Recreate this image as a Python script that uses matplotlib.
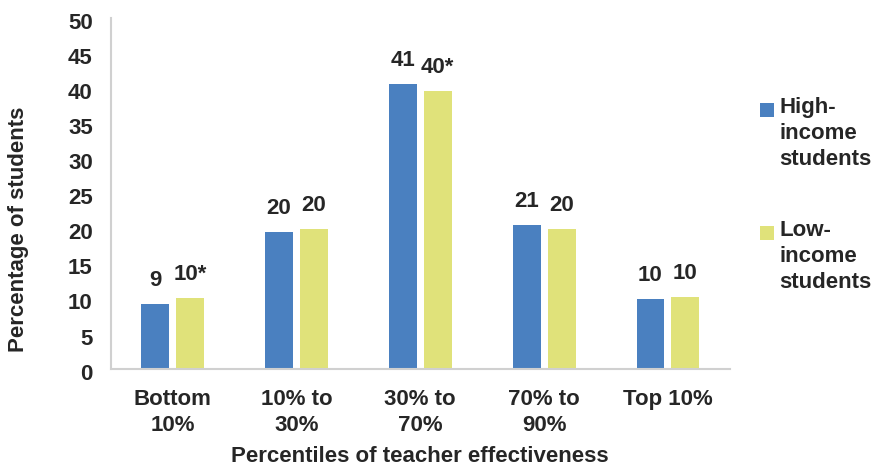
import numpy as np
import matplotlib
matplotlib.use("Agg")
import matplotlib.pyplot as plt
import matplotlib.transforms as mtransforms
from matplotlib.patches import Rectangle

# ===== DATA =====
categories = ["Bottom\n10%", "10% to\n30%", "30% to\n70%", "70% to\n90%", "Top 10%"]
high_income = [9.3, 19.6, 40.6, 20.6, 10.0]
low_income = [10.2, 20.0, 39.6, 20.0, 10.3]
high_labels = ["9", "20", "41", "21", "10"]
low_labels = ["10*", "20", "40*", "20", "10"]
legend_labels = ["High-\nincome\nstudents", "Low-\nincome\nstudents"]

BLUE = '#4a80c0'
YELLOW = '#e0e27a'
TXT = '#262626'
FS = 16

plt.rcParams['font.family'] = ['Liberation Sans', 'DejaVu Sans']
plt.rcParams['font.weight'] = 'bold'

fig = plt.figure(figsize=(8.72, 4.65), dpi=100, facecolor='white')
ax = fig.add_axes([0.127, 0.206, 0.710, 0.755])

x = np.arange(len(categories))
width = 0.226
off = 0.141
b1 = ax.bar(x - off, high_income, width, color=BLUE)
b2 = ax.bar(x + off, low_income, width, color=YELLOW)

for bars, labels in [(b1, high_labels), (b2, low_labels)]:
    for rect, lab in zip(bars, labels):
        ax.annotate(lab, (rect.get_x() + rect.get_width() / 2, rect.get_height()),
                    xytext=(0, 13), textcoords='offset points',
                    ha='center', va='baseline', fontsize=FS, fontweight='bold', color=TXT)

ax.set_xlim(-0.5, len(categories) - 0.5)
ax.set_ylim(0, 50)
ax.set_yticks(range(0, 51, 5))
ax.set_xticks(x)
ax.set_xticklabels(categories, fontsize=FS, fontweight='bold', color=TXT, linespacing=1.36)
ax.tick_params(axis='both', length=0, labelsize=FS, colors=TXT)
ax.tick_params(axis='y', pad=13)
ax.tick_params(axis='x', pad=14)
shift = mtransforms.ScaledTranslation(0, -2.5 / 100, fig.dpi_scale_trans)
for lab in ax.get_yticklabels():
    lab.set_fontweight('bold')
    lab.set_transform(lab.get_transform() + shift)

for s in ['top', 'right']:
    ax.spines[s].set_visible(False)
ax.spines['left'].set_color('#d0d0d0')
ax.spines['bottom'].set_color('#d0d0d0')
ax.spines['left'].set_linewidth(1.5)
ax.spines['bottom'].set_linewidth(1.5)

fig.text(18.3 / 872, 1 - 229 / 465, 'Percentage of students', rotation=90,
         ha='center', va='center', fontsize=FS, fontweight='bold', color=TXT)
fig.text(420 / 872, 1 - 456 / 465, 'Percentiles of teacher effectiveness',
         ha='center', va='center', fontsize=FS, fontweight='bold', color=TXT)

# ===== LEGEND =====
for col, lab, ytop in [(BLUE, legend_labels[0], 103), (YELLOW, legend_labels[1], 226)]:
    fig.add_artist(Rectangle((760 / 872, 1 - (ytop + 14) / 465), 14 / 872, 14 / 465,
                             transform=fig.transFigure, facecolor=col, edgecolor='none'))
    fig.text(779 / 872, 1 - (ytop - 6) / 465, lab, ha='left', va='top', fontsize=FS,
             fontweight='bold', color=TXT, linespacing=1.32)

plt.savefig('out.png', dpi=100, facecolor='white')
